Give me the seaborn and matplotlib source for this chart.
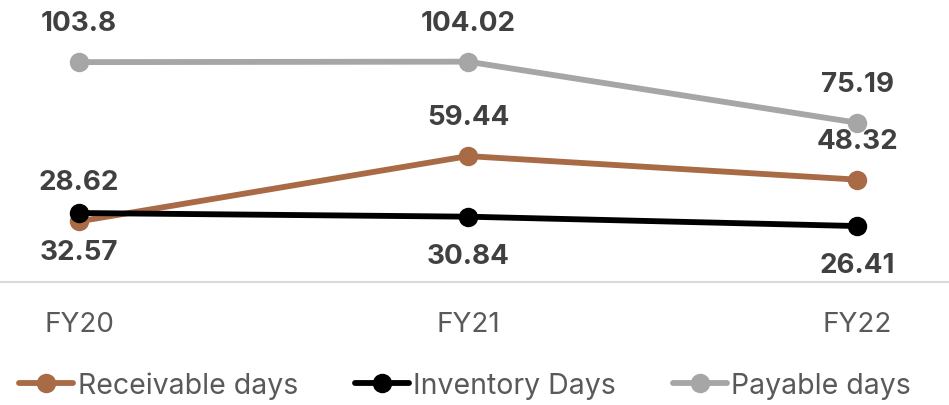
import pandas as pd
import matplotlib.pyplot as plt
import seaborn as sns

# ==================================================
# DATA
# ==================================================

years = ["FY20", "FY21", "FY22"]

receivable_days = [28.62, 59.44, 48.32]
inventory_days = [32.57, 30.84, 26.41]
payable_days = [103.8, 104.02, 75.19]

series_names = ["Receivable days", "Inventory Days", "Payable days"]
series_colors = ["#A86B45", "#000000", "#A6A6A6"]
label_side = [1, -1, 1]   # +1 above the point, -1 below

# ==================================================
# LONG FORM TABLE
# ==================================================

df = pd.DataFrame({
    "year": years * 3,
    "x": [0, 1, 2] * 3,
    "value": receivable_days + inventory_days + payable_days,
    "series": [s for s in series_names for _ in years],
})

# ==================================================
# PLOT
# ==================================================

sns.set_theme(style="white")
plt.rcParams["font.family"] = ["Inter", "DejaVu Sans"]

fig = plt.figure(figsize=(9.49, 4.06), dpi=100)
ax = fig.add_axes([0, 1 - 283 / 406, 1, 283 / 406])

sns.lineplot(
    data=df,
    x="x",
    y="value",
    hue="series",
    hue_order=series_names,
    palette=series_colors,
    marker="o",
    markersize=14,
    markeredgewidth=0,
    linewidth=4.2,
    ax=ax,
)

# data labels
for name, side in zip(series_names, label_side):
    sub = df[df["series"] == name]
    for xv, yv in zip(sub["x"], sub["value"]):
        ax.annotate(
            f"{yv:g}",
            (xv, yv),
            xytext=(0, 28 * side),
            textcoords="offset points",
            ha="center",
            va="center",
            fontsize=20,
            fontweight="bold",
            color="#404040",
        )

ax.set_xlim(-79 / 389, 2 + 92 / 389)
ax.set_ylim(0, 133.6)

ax.set_xticks([0, 1, 2])
ax.set_xticklabels(years)
ax.set_yticks([])
ax.set_xlabel("")
ax.set_ylabel("")
ax.tick_params(axis="x", length=0, pad=21, labelsize=20, labelcolor="#595959")

for side in ["top", "left", "right"]:
    ax.spines[side].set_visible(False)
ax.spines["bottom"].set_color("#D9D9D9")
ax.spines["bottom"].set_linewidth(1.5)

ax.get_legend().remove()
handles, labels = ax.get_legend_handles_labels()
fig.legend(
    handles,
    labels,
    loc="center",
    bbox_to_anchor=(0.49, 1 - 386 / 406),
    ncol=3,
    frameon=False,
    fontsize=20.5,
    labelcolor="#595959",
    handlelength=1.9,
    handletextpad=0.15,
    columnspacing=2.0,
)

plt.savefig("out.png", dpi=100)
plt.close()
